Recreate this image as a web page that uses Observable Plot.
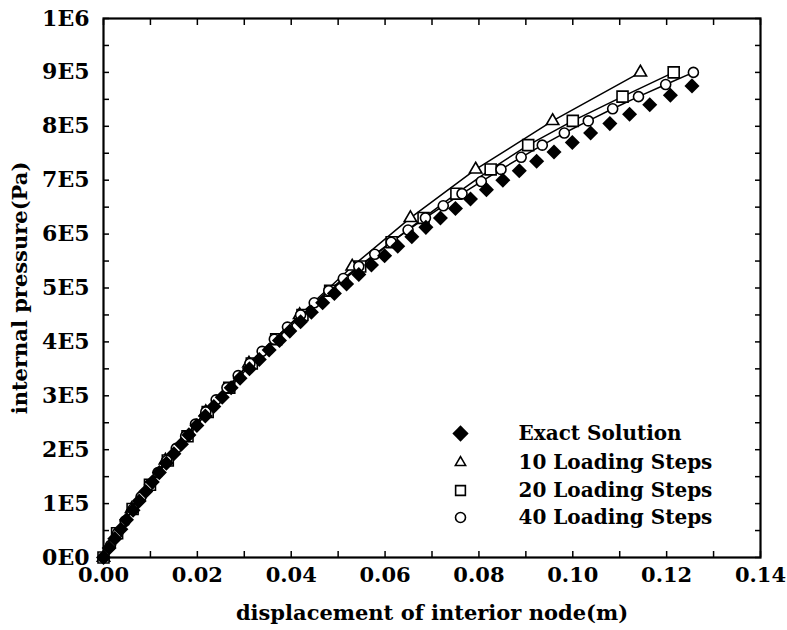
<!DOCTYPE html>
<html><head><meta charset="utf-8">
<script src="https://cdn.jsdelivr.net/npm/d3@7"></script>
<script src="https://cdn.jsdelivr.net/npm/@observablehq/plot@0.6"></script>
<style>body{margin:0;background:#fff}</style>
</head><body><div id="chart"></div>
<script>
// pressures in units of 1E5 Pa, displacements in m
const exactPress = [0,0.175,0.35,0.525,0.7,0.875,1.05,1.225,1.4,1.575,1.75,1.925,2.1,2.275,2.45,2.625,2.8,2.975,3.15,3.325,3.5,3.675,3.85,4.025,4.2,4.375,4.55,4.725,4.9,5.075,5.25,5.425,5.6,5.775,5.95,6.125,6.3,6.475,6.65,6.825,7,7.175,7.35,7.525,7.7,7.875,8.05,8.225,8.4,8.575,8.75];
const exactDisp = [0,0.0012,0.0024,0.0037,0.0049,0.0063,0.0076,0.0090,0.0104,0.0119,0.0134,0.0150,0.0166,0.0182,0.0199,0.0217,0.0235,0.0253,0.0272,0.0291,0.0311,0.0332,0.0353,0.0375,0.0397,0.0420,0.0443,0.0467,0.0492,0.0518,0.0544,0.0571,0.0599,0.0627,0.0657,0.0687,0.0718,0.0750,0.0782,0.0816,0.0851,0.0886,0.0923,0.0960,0.0999,0.1038,0.1079,0.1121,0.1164,0.1208,0.1254];

const steps10Press = [0,0.9,1.8,2.7,3.6,4.5,5.4,6.3,7.2,8.1,9.0];
const steps10Disp = [0,0.0060,0.0132,0.0218,0.0310,0.0418,0.0530,0.0654,0.0793,0.0957,0.1144];

const steps20Press = [0,0.45,0.9,1.35,1.8,2.25,2.7,3.15,3.6,4.05,4.5,4.95,5.4,5.85,6.3,6.75,7.2,7.65,8.1,8.55,9.0];
const steps20Disp = [0,0.0029,0.0062,0.0099,0.0137,0.0179,0.0222,0.0268,0.0316,0.0368,0.0424,0.0483,0.0547,0.0614,0.0682,0.0752,0.0825,0.0905,0.1000,0.1106,0.1215];

const steps40Press = [0,0.225,0.45,0.675,0.9,1.125,1.35,1.575,1.8,2.025,2.25,2.475,2.7,2.925,3.15,3.375,3.6,3.825,4.05,4.275,4.5,4.725,4.95,5.175,5.4,5.625,5.85,6.075,6.3,6.525,6.75,6.975,7.2,7.425,7.65,7.875,8.1,8.325,8.55,8.775,9.0];
const steps40Disp = [0,0.0015,0.0030,0.0046,0.0063,0.0080,0.0098,0.0116,0.0135,0.0155,0.0175,0.0196,0.0218,0.0240,0.0263,0.0287,0.0312,0.0338,0.0364,0.0392,0.0420,0.0449,0.0480,0.0511,0.0544,0.0578,0.0613,0.0649,0.0686,0.0724,0.0764,0.0805,0.0847,0.0890,0.0935,0.0982,0.1033,0.1085,0.1140,0.1198,0.1257];

const xTickValues = [0,0.02,0.04,0.06,0.08,0.10,0.12,0.14];
const xTickLabels = ["0.00","0.02","0.04","0.06","0.08","0.10","0.12","0.14"];
const xMinorTicks = [0,0.01,0.02,0.03,0.04,0.05,0.06,0.07,0.08,0.09,0.10,0.11,0.12,0.13,0.14];
const yTickValues = [0,1e5,2e5,3e5,4e5,5e5,6e5,7e5,8e5,9e5,1e6];
const yTickLabels = ["0E0","1E5","2E5","3E5","4E5","5E5","6E5","7E5","8E5","9E5","1E6"];
const yMinorTicks = [0,0.5e5,1e5,1.5e5,2e5,2.5e5,3e5,3.5e5,4e5,4.5e5,5e5,5.5e5,6e5,6.5e5,7e5,7.5e5,8e5,8.5e5,9e5,9.5e5,1e6];
const legendLabels = ["Exact Solution","10 Loading Steps","20 Loading Steps","40 Loading Steps"];

const toRows = (disp, press) => disp.map((x, i) => ({x, p: press[i] * 1e5}));
const exact = toRows(exactDisp, exactPress);
const s10 = toRows(steps10Disp, steps10Press);
const s20 = toRows(steps20Disp, steps20Press);
const s40 = toRows(steps40Disp, steps40Press);

const font = "DejaVu Serif, serif";
const txt = {fontFamily: font, fontWeight: "bold", fontSize: 21, fill: "black"};

// legend rows (layout offsets from the frame's bottom-right corner)
const legRowDy = [-124, -95, -67, -40];
const legendMarks = [
  Plot.dot([0], {frameAnchor: "bottom-right", dx: -300, dy: legRowDy[0], symbol: "square", rotate: 45, r: 6.5, fill: "black", stroke: "none"}),
  Plot.dot([0], {frameAnchor: "bottom-right", dx: -300, dy: legRowDy[1], symbol: "triangle", r: 3.8, fill: "white", stroke: "black", strokeWidth: 1.6}),
  Plot.dot([0], {frameAnchor: "bottom-right", dx: -300, dy: legRowDy[2], symbol: "square", r: 5.5, fill: "white", stroke: "black", strokeWidth: 1.6}),
  Plot.dot([0], {frameAnchor: "bottom-right", dx: -300, dy: legRowDy[3], symbol: "circle", r: 5, fill: "white", stroke: "black", strokeWidth: 1.6}),
  ...legendLabels.map((label, i) => Plot.text([label], {frameAnchor: "bottom-right", dx: -242, dy: legRowDy[i], text: d => d, textAnchor: "start", lineAnchor: "middle", ...txt, fontSize: 20}))
];

const chart = Plot.plot({
  width: 787,
  height: 630,
  marginLeft: 103,
  marginRight: 27,
  marginTop: 18,
  marginBottom: 73,
  style: {fontFamily: font, background: "white"},
  x: {domain: [0, 0.14]},
  y: {domain: [0, 1e6]},
  marks: [
    // labels
    Plot.axisX({ticks: xTickValues, tickFormat: (d, i) => xTickLabels[i], tickSize: 0, tickPadding: 10, label: null, fontSize: 21, fontWeight: "bold", fill: "black"}),
    Plot.axisY({ticks: yTickValues, tickFormat: (d, i) => yTickLabels[i], tickSize: 0, tickPadding: 14, label: null, fontSize: 22, fontWeight: "bold", fill: "black"}),
    // inward ticks
    Plot.axisX({anchor: "bottom", ticks: xMinorTicks, tickFormat: () => "", tickSize: -6, label: null, strokeWidth: 1.5}),
    Plot.axisX({anchor: "top", ticks: xMinorTicks, tickFormat: () => "", tickSize: -6, label: null, strokeWidth: 1.5}),
    Plot.axisY({anchor: "left", ticks: yMinorTicks, tickFormat: () => "", tickSize: -6, label: null, strokeWidth: 1.5}),
    Plot.axisY({anchor: "right", ticks: yMinorTicks, tickFormat: () => "", tickSize: -6, label: null, strokeWidth: 1.5}),
    Plot.frame({stroke: "black", strokeWidth: 2.2}),
    // axis titles
    Plot.text(["displacement of interior node(m)"], {frameAnchor: "bottom", dy: 56, lineAnchor: "middle", textAnchor: "middle", text: d => d, ...txt}),
    Plot.text(["internal pressure(Pa)"], {frameAnchor: "left", dx: -83, rotate: -90, textAnchor: "middle", lineAnchor: "middle", text: d => d, ...txt}),
    // series lines
    Plot.line(s10, {x: "x", y: "p", stroke: "black", strokeWidth: 1.5}),
    Plot.line(s20, {x: "x", y: "p", stroke: "black", strokeWidth: 1.5}),
    Plot.line(s40, {x: "x", y: "p", stroke: "black", strokeWidth: 1.5}),
    // markers
    Plot.dot(s10, {x: "x", y: "p", symbol: "triangle", r: 4.6, fill: "white", stroke: "black", strokeWidth: 1.6}),
    Plot.dot(s20, {x: "x", y: "p", symbol: "square", r: 6.2, fill: "white", stroke: "black", strokeWidth: 1.6}),
    Plot.dot(s40, {x: "x", y: "p", symbol: "circle", r: 5, fill: "white", stroke: "black", strokeWidth: 1.6}),
    Plot.dot(exact, {x: "x", y: "p", symbol: "square", rotate: 45, r: 6, fill: "black", stroke: "none"}),
    ...legendMarks
  ]
});
document.getElementById("chart").appendChild(chart);
</script>
</body></html>
